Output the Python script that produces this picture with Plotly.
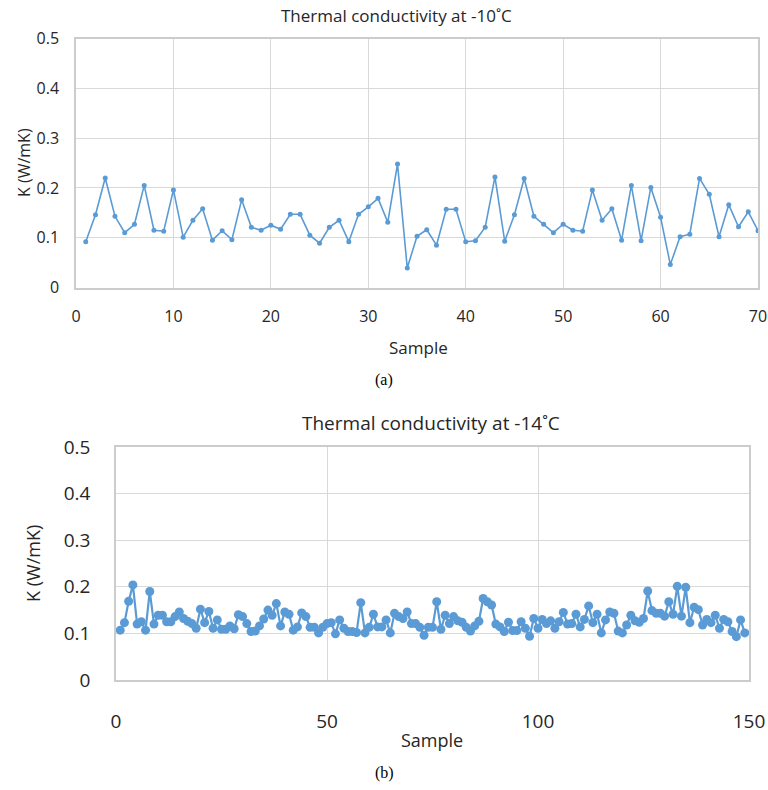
import plotly.graph_objects as go

# ---- data ----
samples_a = list(range(1, 71))
k_a = [0.092, 0.146, 0.220, 0.143, 0.110, 0.127, 0.205, 0.115, 0.113, 0.196,
       0.101, 0.135, 0.158, 0.095, 0.114, 0.096, 0.176, 0.121, 0.115, 0.125,
       0.117, 0.147, 0.147, 0.105, 0.089, 0.121, 0.135, 0.092, 0.147, 0.162,
       0.179, 0.131, 0.248, 0.039, 0.103, 0.116, 0.085, 0.157, 0.157, 0.092,
       0.094, 0.121, 0.222, 0.093, 0.146, 0.219, 0.143, 0.127, 0.110, 0.127,
       0.115, 0.113, 0.196, 0.135, 0.158, 0.095, 0.205, 0.094, 0.201, 0.141,
       0.046, 0.102, 0.107, 0.219, 0.187, 0.102, 0.166, 0.122, 0.152, 0.114]

samples_b = list(range(1, 150))
k_b = [0.107, 0.123, 0.169, 0.204, 0.120, 0.125, 0.107, 0.190, 0.120, 0.139,
       0.139, 0.125, 0.125, 0.136, 0.146, 0.132, 0.126, 0.121, 0.111, 0.152,
       0.123, 0.147, 0.111, 0.129, 0.109, 0.109, 0.116, 0.110, 0.140, 0.136,
       0.121, 0.104, 0.105, 0.116, 0.131, 0.150, 0.139, 0.164, 0.116, 0.146,
       0.141, 0.107, 0.114, 0.144, 0.136, 0.113, 0.113, 0.101, 0.113, 0.121,
       0.123, 0.099, 0.129, 0.111, 0.104, 0.104, 0.102, 0.166, 0.101, 0.113,
       0.141, 0.114, 0.114, 0.129, 0.101, 0.143, 0.136, 0.132, 0.146, 0.121,
       0.121, 0.113, 0.096, 0.113, 0.113, 0.168, 0.109, 0.139, 0.121, 0.136,
       0.127, 0.124, 0.113, 0.105, 0.116, 0.126, 0.175, 0.168, 0.161, 0.120,
       0.114, 0.104, 0.124, 0.106, 0.106, 0.125, 0.111, 0.094, 0.132, 0.111,
       0.130, 0.121, 0.127, 0.111, 0.125, 0.145, 0.120, 0.121, 0.141, 0.114,
       0.130, 0.159, 0.123, 0.141, 0.101, 0.129, 0.146, 0.143, 0.105, 0.101,
       0.118, 0.139, 0.127, 0.124, 0.132, 0.191, 0.149, 0.143, 0.143, 0.137,
       0.168, 0.141, 0.201, 0.137, 0.199, 0.123, 0.156, 0.151, 0.118, 0.130,
       0.123, 0.139, 0.111, 0.130, 0.125, 0.104, 0.093, 0.129, 0.101]

title_a = "Thermal conductivity at -10˚C"
title_b = "Thermal conductivity at -14˚C"
y_title = "K (W/mK)"
x_title = "Sample"

BLUE = "#5b9bd5"
GRID = "#d9d9d9"
AXIS = "#cccccc"
FONT = "Open Sans"
TXT = "#262626"

W, H = 768, 790

def px(x):
    return x / W

def py(y):
    return 1 - y / H

fig = go.Figure()
fig.add_trace(go.Scatter(x=samples_a, y=k_a, mode="lines+markers",
                         line=dict(color=BLUE, width=1.6),
                         marker=dict(color=BLUE, size=5),
                         xaxis="x", yaxis="y", showlegend=False))
fig.add_trace(go.Scatter(x=samples_b, y=k_b, mode="lines+markers",
                         line=dict(color=BLUE, width=2.2),
                         marker=dict(color=BLUE, size=9),
                         xaxis="x2", yaxis="y2", showlegend=False))

common = dict(showgrid=True, gridcolor=GRID, gridwidth=1, zeroline=False,
              showline=True, linecolor=AXIS, linewidth=1.5, ticks="",
              mirror=True, automargin=False)

fig.update_layout(
    width=W, height=H,
    margin=dict(l=0, r=0, t=0, b=0),
    paper_bgcolor="white", plot_bgcolor="white",
    font=dict(family=FONT, color=TXT),
    xaxis=dict(domain=[px(76), px(758)], range=[0, 70], dtick=10,
               anchor="y", tickfont=dict(size=16, color=TXT),
               ticklabelstandoff=14, **common),
    yaxis=dict(domain=[py(287.5), py(38.5)], range=[0, 0.5], dtick=0.1,
               anchor="x", tickfont=dict(size=16, color=TXT),
               ticklabelstandoff=12, tickformat="~g", **common),
    xaxis2=dict(domain=[px(116), px(749)], range=[0, 150], dtick=50,
                anchor="y2", tickfont=dict(size=19, color=TXT),
                ticklabelstandoff=23, **common),
    yaxis2=dict(domain=[py(680), py(447)], range=[0, 0.5], dtick=0.1,
                anchor="x2", tickfont=dict(size=19, color=TXT),
                ticklabelstandoff=20, tickformat="~g", **common),
)

ann = [
    dict(text=title_a, x=px(396), y=py(16), font=dict(size=17, color=TXT, family=FONT)),
    dict(text=x_title, x=px(418), y=py(347), font=dict(size=17, color=TXT, family=FONT)),
    dict(text=y_title, x=px(24), y=py(163), textangle=-90, font=dict(size=16, color=TXT, family=FONT)),
    dict(text="(a)", x=px(384), y=py(380), font=dict(size=16, color="#000", family="Liberation Serif")),
    dict(text=title_b, x=px(431), y=py(423), font=dict(size=19, color=TXT, family=FONT)),
    dict(text=x_title, x=px(432), y=py(740), font=dict(size=18, color=TXT, family=FONT)),
    dict(text=y_title, x=px(33), y=py(564), textangle=-90, font=dict(size=18, color=TXT, family=FONT)),
    dict(text="(b)", x=px(384), y=py(773), font=dict(size=16, color="#000", family="Liberation Serif")),
]
for a in ann:
    a.update(xref="paper", yref="paper", showarrow=False, xanchor="center", yanchor="middle")
fig.update_layout(annotations=ann)

fig.write_html(
    "out.html",
    config={"displayModeBar": False},
    post_script="document.body.style.margin='0';document.body.style.overflow='hidden';",
)
